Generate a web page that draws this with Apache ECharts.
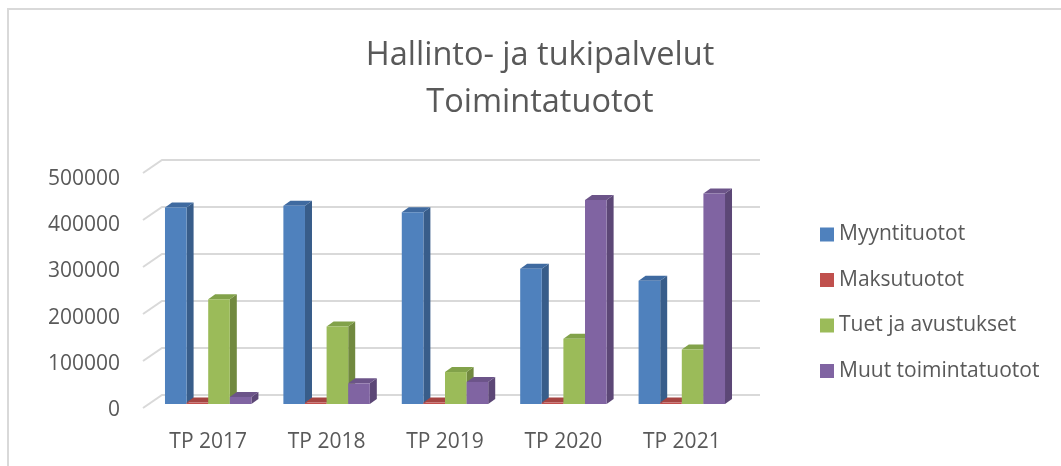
<!DOCTYPE html>
<html><head><meta charset="utf-8">
<script src="https://cdn.jsdelivr.net/npm/echarts@6/dist/echarts.min.js"></script>
<style>html,body{margin:0;padding:0;background:#fff}#c{width:1061px;height:466px}</style>
</head><body><div id="c"></div>
<script>
const categories = ['TP 2017','TP 2018','TP 2019','TP 2020','TP 2021'];
const seriesNames = ['Myyntituotot','Maksutuotot','Tuet ja avustukset','Muut toimintatuotot'];
const myyntituotot = [418000, 422000, 408000, 288000, 262000];
const maksutuotot = [3000, 3000, 3000, 3000, 3000];
const tuet = [223000, 165000, 68000, 139000, 116000];
const muut = [15000, 44000, 47000, 434000, 448000];
const yTicks = [0, 100000, 200000, 300000, 400000, 500000];

const frontCol = ['#4F81BD','#C0504D','#9BBB59','#8064A2'];
const sideCol = ['#385D8A','#8C3836','#71893F','#5C4776'];
const topCol = ['#3F6AA0','#A54542','#82A24A','#6C5489'];
const FONT = 'Open Sans';

const DX = 7, DY = -5; // bar depth
const BX = 13, BY = -9; // back wall offset from bar plane
const FX = -6, FY = 4;  // front edge offset from bar plane

const dataArrays = [myyntituotot, maksutuotot, tuet, muut];

function barSeries(idx) {
  return {
    type: 'custom', name: seriesNames[idx],
    xAxisIndex: 0, yAxisIndex: 0,
    itemStyle: {color: frontCol[idx]},
    data: dataArrays[idx].map((v, i) => [i, v]),
    z: 10,
    renderItem: function (params, api) {
      const c = api.value(0), v = api.value(1);
      const band = api.size([1, 0])[0];
      const w = band * 0.73 / 4;
      const base = api.coord([c, 0]);
      const top = api.coord([c, v]);
      const x0 = base[0] - 2 * w + idx * w;
      const x1 = x0 + w;
      const yb = base[1], yt = top[1];
      return {
        type: 'group', children: [
          {type: 'polygon', shape: {points: [[x1, yb], [x1 + DX, yb + DY], [x1 + DX, yt + DY], [x1, yt]]}, style: {fill: sideCol[idx]}},
          {type: 'polygon', shape: {points: [[x0, yt], [x1, yt], [x1 + DX, yt + DY], [x0 + DX, yt + DY]]}, style: {fill: topCol[idx]}},
          {type: 'rect', shape: {x: x0, y: yt, width: w, height: yb - yt}, style: {fill: frontCol[idx]}}
        ]
      };
    }
  };
}

const wallSeries = {
  type: 'custom', silent: true, z: 1,
  xAxisIndex: 0, yAxisIndex: 0,
  data: yTicks.map(v => [0, v]),
  renderItem: function (params, api) {
    const v = api.value(1);
    const band = api.size([1, 0])[0];
    const p0 = api.coord([0, v]);
    const p4 = api.coord([categories.length - 1, v]);
    const lx = p0[0] - band / 2, rx = p4[0] + band / 2;
    const y = p0[1];
    return {
      type: 'polyline',
      shape: {points: [[lx + FX, y + FY], [lx + BX, y + BY], [rx + BX + 6, y + BY]]},
      style: {stroke: '#D9D9D9', lineWidth: 2, fill: null}
    };
  }
};

const chart = echarts.init(document.getElementById('c'), null, {renderer: 'canvas'});
chart.setOption({
  animation: false,
  backgroundColor: '#fff',
  graphic: [{type: 'rect', shape: {x: 8, y: 9, width: 1100, height: 500}, style: {fill: null, stroke: '#D9D9D9', lineWidth: 2}, z: -1}],
  title: {
    text: 'Hallinto- ja tukipalvelut\nToimintatuotot', left: 535, top: 27, textAlign: 'center',
    textStyle: {fontFamily: FONT, fontSize: 32.5, fontWeight: 'normal', color: '#595959', lineHeight: 47}
  },
  legend: {
    orient: 'vertical', left: 815, top: 219, itemWidth: 14, itemHeight: 14, itemGap: 24.5,
    icon: 'rect',
    data: seriesNames,
    textStyle: {fontFamily: FONT, fontSize: 21, color: '#595959', lineHeight: 21}
  },
  grid: [
    {left: 149, top: 169, width: 592, height: 235},
    {left: 143, top: 179, width: 592, height: 231}
  ],
  xAxis: [{
    type: 'category', data: categories, gridIndex: 0,
    axisLine: {show: false}, axisTick: {show: false},
    axisLabel: {margin: 28, fontFamily: FONT, fontSize: 21, color: '#595959'}
  }, {
    type: 'category', data: categories, gridIndex: 1, show: false
  }],
  yAxis: [{
    type: 'value', min: 0, max: 500000, interval: 100000, gridIndex: 0,
    axisLabel: {show: false},
    splitLine: {show: false}, axisLine: {show: false}, axisTick: {show: false}
  }, {
    type: 'value', min: 0, max: 500000, interval: 100000, gridIndex: 1,
    splitLine: {show: false}, axisLine: {show: false}, axisTick: {show: false},
    axisLabel: {margin: 23, fontFamily: FONT, fontSize: 21, color: '#595959', formatter: v => String(v)}
  }],
  series: [wallSeries, barSeries(0), barSeries(1), barSeries(2), barSeries(3)]
});
</script></body></html>
